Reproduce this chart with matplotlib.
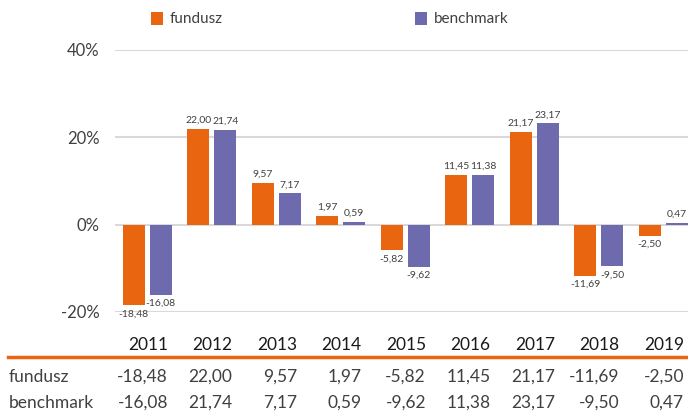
import matplotlib.pyplot as plt
from matplotlib.lines import Line2D
from matplotlib.ticker import PercentFormatter
import numpy as np

plt.rcParams['font.family'] = ['Lato', 'DejaVu Sans']
plt.rcParams['axes.unicode_minus'] = False

# data
years = ['2011', '2012', '2013', '2014', '2015', '2016', '2017', '2018', '2019']
fundusz = [-18.48, 22.00, 9.57, 1.97, -5.82, 11.45, 21.17, -11.69, -2.50]
benchmark = [-16.08, 21.74, 7.17, 0.59, -9.62, 11.38, 23.17, -9.50, 0.47]

c_fund = '#EA6510'
c_bench = '#6E6AAE'
txt = '#404040'

def fmt(v):
    return ('%.2f' % v).replace('.', ',')

fig = plt.figure(figsize=(6.88, 4.12), dpi=100)
# plot area: x 115..695 px, y 50..312 px
ax = fig.add_axes([115/688, (412-312)/412, 580.5/688, 262/412])

x = np.arange(len(years))
w = 0.34
off = 0.21
f = np.array(fundusz) / 100
b = np.array(benchmark) / 100
b1 = ax.bar(x - off, f, w, color=c_fund, label='fundusz', zorder=3)
b2 = ax.bar(x + off, b, w, color=c_bench, label='benchmark', zorder=3)
ax.bar_label(b1, labels=[fmt(v) for v in fundusz], padding=3, fontsize=7.5, color=txt)
ax.bar_label(b2, labels=[fmt(v) for v in benchmark], padding=3, fontsize=7.5, color=txt)

ax.set_xlim(-0.5, 8.5)
ax.set_ylim(-0.2, 0.4)
ax.set_yticks([-0.2, 0, 0.2, 0.4])
ax.yaxis.set_major_formatter(PercentFormatter(1.0, decimals=0))
ax.tick_params(axis='y', length=0, pad=11, labelsize=12, labelcolor=txt)
ax.set_xticks([])
ax.grid(axis='y', color='#d9d9d9', linewidth=1.5, zorder=0)
for s in ax.spines.values():
    s.set_visible(False)

# legend
fig.legend(handles=[b1, b2], loc='center left', bbox_to_anchor=(145/688, 1 - 19/412),
           ncol=2, frameon=False, fontsize=11, handlelength=0.75, handleheight=0.95,
           handletextpad=0.45, columnspacing=12.6, labelcolor=txt, borderaxespad=0)

# data table under the chart
tr = ax.get_xaxis_transform()
ty = lambda py: (312 - py) / 262
fs = 12.5
for i, yr in enumerate(years):
    ax.text(i + 0.32, ty(345), yr, transform=tr, ha='right', va='center',
            fontsize=fs, color='#1a1a1a', clip_on=False)
    ax.text(i + 0.32, ty(377), fmt(fundusz[i]), transform=tr, ha='right', va='center',
            fontsize=fs, color=txt, clip_on=False)
    ax.text(i + 0.32, ty(403), fmt(benchmark[i]), transform=tr, ha='right', va='center',
            fontsize=fs, color=txt, clip_on=False)
fig.text(9/688, 1 - 377/412, 'fundusz', ha='left', va='center', fontsize=fs, color=txt)
fig.text(9/688, 1 - 403/412, 'benchmark', ha='left', va='center', fontsize=fs, color=txt)
fig.add_artist(Line2D([8/688, 1], [1 - 357/412] * 2, color=c_fund, linewidth=2.5))

fig.savefig('out.png', dpi=100)
